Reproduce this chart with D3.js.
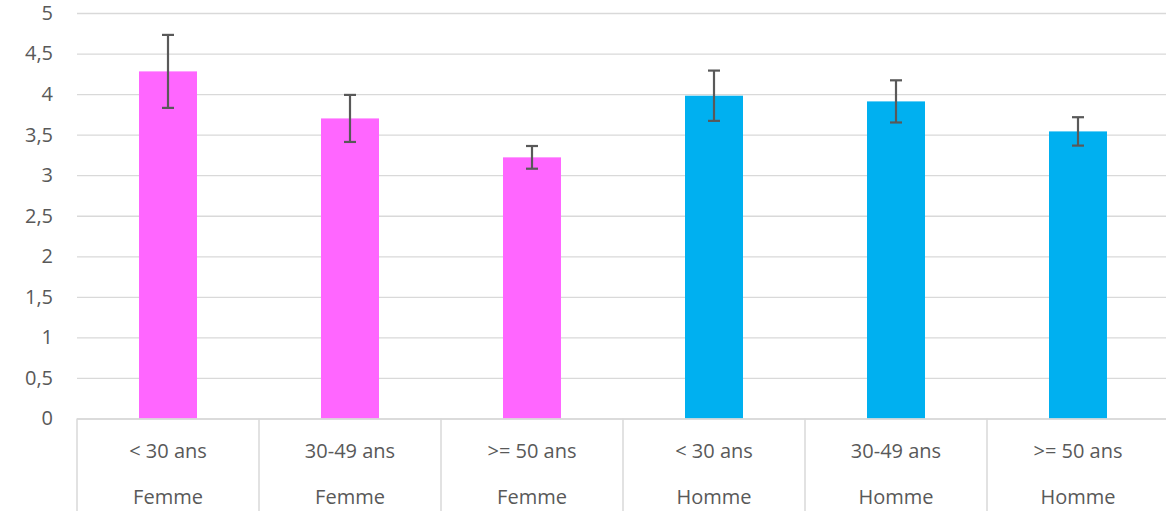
<!DOCTYPE html>
<html><head><meta charset="utf-8">
<script src="https://cdn.jsdelivr.net/npm/d3@7/dist/d3.min.js"></script>
<style>
html,body{margin:0;padding:0;background:#fff;}
svg{display:block;}
text{font-family:"Open Sans","Noto Sans",sans-serif;fill:#595959;}
</style></head>
<body>
<svg id="chart" width="1166" height="511"></svg>
<script>
const ageGroups = ["< 30 ans","30-49 ans",">= 50 ans","< 30 ans","30-49 ans",">= 50 ans"];
const sexes = ["Femme","Femme","Femme","Homme","Homme","Homme"];
const means = [4.28, 3.70, 3.22, 3.98, 3.91, 3.54];
const errors = [0.45, 0.29, 0.14, 0.31, 0.26, 0.175];
const yTicks = [0,0.5,1,1.5,2,2.5,3,3.5,4,4.5,5];
const sexColors = {"Femme":"#FF66FF","Homme":"#00B0F0"};

(function(){
const svg = d3.select("#chart");
const mLeft = 77, mRight = 1169, mTop = 13, mBottom = 418.5;
const idx = d3.range(means.length);
const x = d3.scaleBand().domain(idx).range([mLeft, mRight]).paddingInner(0).paddingOuter(0);
const y = d3.scaleLinear().domain([0,5]).range([mBottom, mTop]);
const fmt = d => String(d).replace(".", ",");
const fs = 20;

const yAxis = d3.axisLeft(y).tickValues(yTicks).tickFormat(fmt).tickSize(-(mRight-mLeft)).tickPadding(24);
const gy = svg.append("g").attr("transform",`translate(${mLeft},0)`).call(yAxis);
gy.select(".domain").remove();
gy.selectAll(".tick line").attr("stroke","#d9d9d9").attr("stroke-width",1.3);
gy.selectAll(".tick text").attr("font-size",fs).attr("font-family",null).style("fill","#595959");
gy.attr("font-family",null).attr("font-size",null);

const barW = 58;
svg.append("g").selectAll("rect").data(idx).join("rect")
  .attr("x", i => x(i) + x.bandwidth()/2 - barW/2)
  .attr("width", barW)
  .attr("y", i => y(means[i]))
  .attr("height", i => y(0) - y(means[i]))
  .attr("fill", i => sexColors[sexes[i]]);

const eg = svg.append("g").attr("stroke","#595959").attr("stroke-width",2.2);
idx.forEach(i => {
  const cx = x(i) + x.bandwidth()/2;
  const hi = y(means[i] + errors[i]), lo = y(means[i] - errors[i]);
  eg.append("line").attr("x1",cx).attr("x2",cx).attr("y1",hi).attr("y2",lo);
  eg.append("line").attr("x1",cx-6).attr("x2",cx+6).attr("y1",hi).attr("y2",hi);
  eg.append("line").attr("x1",cx-6).attr("x2",cx+6).attr("y1",lo).attr("y2",lo);
});

const xg = svg.append("g");
xg.append("line").attr("x1",mLeft).attr("x2",mRight).attr("y1",y(0)+0.5).attr("y2",y(0)+0.5)
  .attr("stroke","#d9d9d9").attr("stroke-width",1.5);
const seps = idx.map(i => x(i));
xg.selectAll("line.sep").data(seps).join("line").attr("class","sep")
  .attr("x1", d => d).attr("x2", d => d).attr("y1", y(0)).attr("y2", 520)
  .attr("stroke","#d9d9d9").attr("stroke-width",1.5);
xg.selectAll("text.age").data(idx).join("text").attr("class","age")
  .attr("x", i => x(i) + x.bandwidth()/2).attr("y", 451).attr("dy","0.35em")
  .attr("text-anchor","middle").attr("font-size",fs).text(i => ageGroups[i]);
xg.selectAll("text.sex").data(idx).join("text").attr("class","sex")
  .attr("x", i => x(i) + x.bandwidth()/2).attr("y", 497).attr("dy","0.35em")
  .attr("text-anchor","middle").attr("font-size",fs).text(i => sexes[i]);
})();
</script>
</body></html>
